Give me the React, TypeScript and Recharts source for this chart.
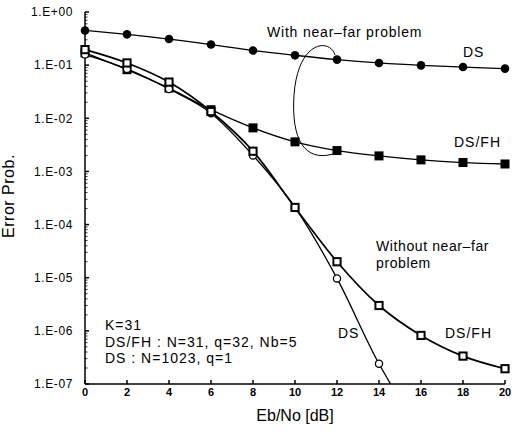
import { LineChart, Line, XAxis, YAxis, ReferenceLine } from "recharts";

// Eb/No in dB
const ebNo = [0, 2, 4, 6, 8, 10, 12, 14, 16, 18, 20];
const yTicks = [1e-7, 1e-6, 1e-5, 1e-4, 1e-3, 1e-2, 1e-1, 1];

// with near-far problem
const dsNearFar = [0.45, 0.38, 0.31, 0.244, 0.188, 0.153, 0.127, 0.11, 0.099, 0.092, 0.086];
const dsfhNearFar = [0.17, 0.082, 0.037, 0.0145, 0.0066, 0.0036, 0.00247, 0.00196, 0.00165, 0.00147, 0.00138];

// without near-far problem
const dsNoNearFar = [0.158, 0.085, 0.0355, 0.0125, 0.002, 0.00021, 9.7e-6, 2.4e-7];
const dsfhNoNearFar = [0.196, 0.11, 0.048, 0.0134, 0.0024, 0.00021, 2.0e-5, 3.0e-6, 8.2e-7, 3.35e-7, 1.94e-7];
// DS curve runs off the bottom of the plot just past 14 dB
const dsTail = { x: 14.55, y: 1e-7 };

const toRows = (vals: number[]) => vals.map((v, i) => ({ x: ebNo[i], y: v }));

const minorTicks: number[] = [];
for (let e = -7; e < 0; e++) {
  for (let m = 2; m <= 9; m++) minorTicks.push(m * Math.pow(10, e));
}

const fmt = (v: number) => {
  const e = Math.round(Math.log10(v));
  const s = e >= 0 ? "+" : "-";
  return "1.E" + s + String(Math.abs(e)).padStart(2, "0");
};

const FONT = "'Liberation Sans', Arial, sans-serif";

const FilledCircle = (p: any) => <circle key={p.index} cx={p.cx} cy={p.cy} r={4.3} fill="#000" />;
const FilledSquare = (p: any) => (
  <rect key={p.index} x={p.cx - 4.5} y={p.cy - 4.5} width={9} height={9} fill="#000" />
);
const OpenCircle = (p: any) =>
  p.payload && p.payload.tail ? (
    <g key={p.index} />
  ) : (
    <circle key={p.index} cx={p.cx} cy={p.cy} r={3.6} fill="#fff" stroke="#000" strokeWidth={1.3} />
  );
const OpenSquare = (p: any) => (
  <rect key={p.index} x={p.cx - 3.6} y={p.cy - 3.6} width={7.2} height={7.2} fill="#fff" stroke="#000" strokeWidth={2} />
);

export default function App() {
  const dsLower = [...toRows(dsNoNearFar), { ...dsTail, tail: true }];
  return (
    <div style={{ position: "absolute", left: 0, top: 0, width: 513, height: 436, background: "#fff" }}>
      <LineChart
        width={513}
        height={436}
        margin={{ top: 12, right: 8, bottom: 0, left: 0 }}
      >
        <XAxis
          type="number"
          dataKey="x"
          domain={[0, 20]}
          ticks={ebNo}
          height={52}
          tickSize={-4}
          tickMargin={8}
          stroke="#000"
          strokeWidth={1.5}
          tick={{ fill: "#000", fontSize: 11, fontWeight: "bold", fontFamily: FONT }}
        />
        <XAxis xAxisId="top" orientation="top" type="number" domain={[0, 20]} height={0} tick={false} tickLine={false} stroke="#000" strokeWidth={1.5} />
        <YAxis
          scale="log"
          domain={[1e-7, 1]}
          allowDataOverflow
          ticks={yTicks}
          tickFormatter={fmt}
          width={85}
          tickSize={-4}
          tickMargin={16}
          stroke="#000"
          strokeWidth={1.5}
          tick={{ fill: "#000", fontSize: 12, letterSpacing: 0.6, fontFamily: FONT }}
        />
        <YAxis yAxisId="right" orientation="right" scale="log" domain={[1e-7, 1]} width={0} tick={false} tickLine={false} stroke="#000" strokeWidth={1.5} />
        {minorTicks.map((v) => (
          <ReferenceLine
            key={v}
            segment={[{ x: 0, y: v }, { x: 0.12, y: v }]}
            stroke="#000"
            strokeWidth={0.8}
            ifOverflow="hidden"
          />
        ))}
        <Line data={toRows(dsNearFar)} dataKey="y" type="monotone" stroke="#000" strokeWidth={1.3} dot={FilledCircle} isAnimationActive={false} />
        <Line data={toRows(dsfhNearFar)} dataKey="y" type="monotone" stroke="#000" strokeWidth={1.3} dot={FilledSquare} isAnimationActive={false} />
        <Line data={dsLower} dataKey="y" type="monotone" stroke="#000" strokeWidth={1.3} dot={OpenCircle} isAnimationActive={false} />
        <Line data={toRows(dsfhNoNearFar)} dataKey="y" type="monotone" stroke="#000" strokeWidth={1.7} dot={OpenSquare} isAnimationActive={false} />
      </LineChart>

      {/* annotations */}
      <svg width={513} height={436} style={{ position: "absolute", left: 0, top: 0, pointerEvents: "none" }} fontFamily={FONT} fill="#000">
        <text x={267} y={37} fontSize={14} letterSpacing={0.8}>With near–far problem</text>
        <path d="M 335 55 C 330 38, 298 40, 294 95 C 291 140, 305 162, 333 154" fill="none" stroke="#000" strokeWidth={1} />
        <text x={463} y={57} fontSize={14} letterSpacing={1}>DS</text>
        <text x={454} y={147} fontSize={14} letterSpacing={1}>DS/FH</text>
        <text x={376} y={251} fontSize={14} letterSpacing={0.6}>Without near–far</text>
        <text x={376} y={268} fontSize={14} letterSpacing={0.6}>problem</text>
        <text x={338} y={338} fontSize={14} letterSpacing={1}>DS</text>
        <text x={445} y={338} fontSize={14} letterSpacing={1}>DS/FH</text>
        <text x={105} y={330} fontSize={14} letterSpacing={1}>K=31</text>
        <text x={105} y={347} fontSize={14} letterSpacing={1}>DS/FH : N=31, q=32, Nb=5</text>
        <text x={105} y={363} fontSize={14} letterSpacing={1}>DS : N=1023, q=1</text>
        <text x={295} y={421} fontSize={16} textAnchor="middle">Eb/No [dB]</text>
        <text x={14} y={196} fontSize={16} letterSpacing={0.5} textAnchor="middle" transform="rotate(-90 14 196)">Error Prob.</text>
      </svg>
    </div>
  );
}
